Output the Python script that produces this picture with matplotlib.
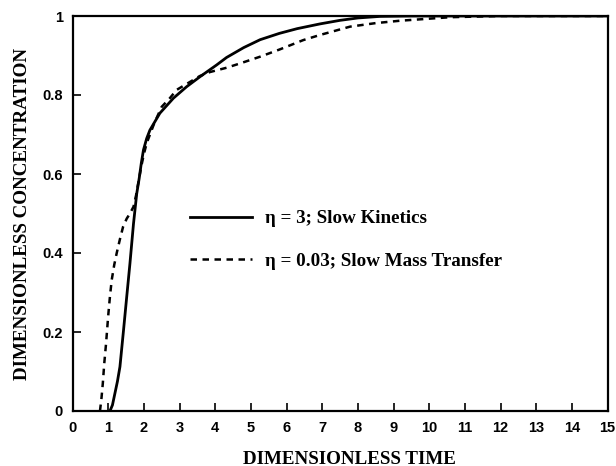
import matplotlib
matplotlib.use("Agg")
import matplotlib.pyplot as plt

# Data
kin_x = [1.05, 1.12, 1.19, 1.26, 1.33, 1.43, 1.52, 1.61, 1.71, 1.80, 1.87, 1.93, 1.99, 2.08, 2.17,
         2.45, 2.83, 3.20, 3.57, 4.04, 4.32, 4.8, 5.26, 5.8, 6.3, 6.94, 7.5, 8.0, 8.62, 9.5, 15.0]
kin_y = [0.0, 0.015, 0.045, 0.075, 0.112, 0.204, 0.289, 0.373, 0.474, 0.550, 0.589, 0.628, 0.661, 0.69, 0.711,
         0.754, 0.792, 0.821, 0.846, 0.876, 0.895, 0.92, 0.94, 0.956, 0.968, 0.98, 0.989, 0.995, 0.999, 1.0, 1.0]

mt_x = [0.77, 0.81, 0.85, 0.89, 0.94, 1.0, 1.05, 1.10, 1.17, 1.24, 1.33, 1.42, 1.52, 1.61, 1.71, 1.78,
        1.85, 1.93, 2.0, 2.08, 2.29, 2.5, 2.73, 2.92, 3.2, 3.57, 3.85, 4.32, 4.7, 5.26, 5.8, 6.47,
        6.94, 7.78, 8.5, 9.18, 10.6, 12.0, 15.0]
mt_y = [0.0, 0.03, 0.07, 0.12, 0.17, 0.24, 0.29, 0.332, 0.37, 0.40, 0.435, 0.467, 0.487, 0.50, 0.517, 0.545,
        0.58, 0.62, 0.65, 0.678, 0.728, 0.770, 0.792, 0.813, 0.828, 0.848, 0.858, 0.869, 0.88, 0.897, 0.915, 0.939,
        0.952, 0.973, 0.982, 0.988, 0.997, 1.0, 1.0]

x_ticks = list(range(0, 16))
y_ticks = [0, 0.2, 0.4, 0.6, 0.8, 1]
y_tick_labels = ["0", "0.2", "0.4", "0.6", "0.8", "1"]
label_kin = "\u03b7 = 3; Slow Kinetics"
label_mt = "\u03b7 = 0.03; Slow Mass Transfer"
x_title = "DIMENSIONLESS TIME"
y_title = "DIMENSIONLESS CONCENTRATION"

W, H = 616, 466
fig = plt.figure(figsize=(W / 100, H / 100), dpi=100)
ax_l, ax_r, ax_b, ax_t = 72.5, 607.5, 411, 16
ax = fig.add_axes([ax_l / W, 1 - ax_b / H, (ax_r - ax_l) / W, (ax_b - ax_t) / H])

ax.plot(kin_x, kin_y, color="black", lw=2.0, solid_joinstyle="round", label=label_kin)
ax.plot(mt_x, mt_y, color="black", lw=1.8, linestyle=(0, (2.6, 2.2)), label=label_mt)

ax.set_xlim(0, 15)
ax.set_ylim(0, 1)
ax.set_xticks(x_ticks)
ax.set_yticks(y_ticks)
ax.set_yticklabels(y_tick_labels)
ax.tick_params(direction="in", length=5.5, width=1.2, labelsize=10.5, pad=7)
for lab in ax.get_xticklabels() + ax.get_yticklabels():
    lab.set_family("Liberation Sans")
    lab.set_weight("bold")
for s in ax.spines.values():
    s.set_linewidth(1.6)

serif = {"family": "Liberation Serif", "weight": "bold", "size": 13.7}
fig.text(349 / W, 2.5 / H, x_title, ha="center", va="baseline", **serif)
fig.text(27 / W, 1 - ((ax_b + ax_t) / 2) / H, y_title, ha="center", va="baseline",
         rotation=90, rotation_mode="anchor", **serif)

leg = ax.legend(loc="upper left", bbox_to_anchor=((190 - ax_l) / (ax_r - ax_l), (ax_b - 210) / (ax_b - ax_t)),
                frameon=False, handlelength=3.25, handletextpad=0.68, labelspacing=1.32, borderpad=0,
                borderaxespad=0, prop={"family": "Liberation Serif", "weight": "bold", "size": 13.7})

fig.savefig("out.png", dpi=100)
